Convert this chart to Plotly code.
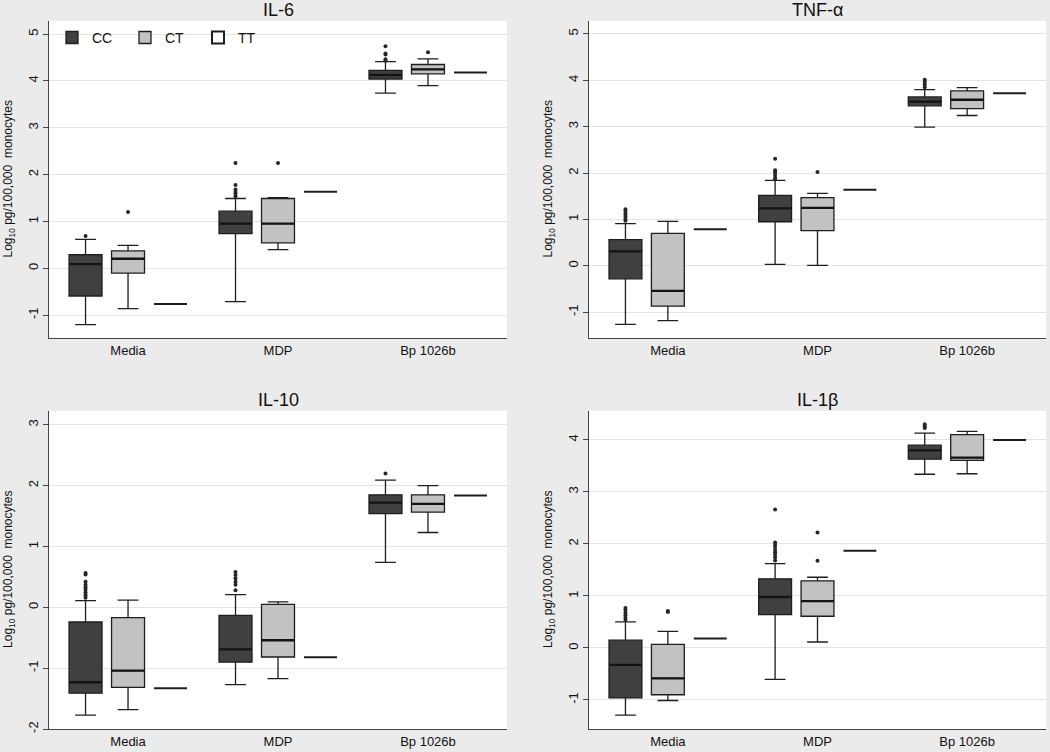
import plotly.graph_objects as go

GROUPS = ["Media", "MDP", "Bp 1026b"]
GENOTYPES = ["CC", "CT", "TT"]
PANEL_TITLES = ["IL-6", "TNF-α", "IL-10", "IL-1β"]

# Each row: [lower whisker, Q1, median, Q3, upper whisker] for Media, MDP, Bp 1026b
IL6_CC = [[-1.20, -0.59, 0.09, 0.29, 0.62], [-0.71, 0.74, 0.955, 1.22, 1.49], [3.74, 4.04, 4.126, 4.225, 4.41]]
IL6_CT = [[-0.86, -0.10, 0.205, 0.375, 0.49], [0.40, 0.545, 0.955, 1.49, 1.51], [3.90, 4.15, 4.245, 4.35, 4.47]]
IL6_TT = [-0.76, 1.635, 4.18]
IL6_CC_OUT = [[0.69], [2.25, 1.78, 1.68, 1.63, 1.59, 1.54], [4.74, 4.585, 4.565, 4.46, 4.43]]
IL6_CT_OUT = [[1.20], [2.25], [4.61]]

TNF_CC = [[-1.26, -0.28, 0.31, 0.565, 0.91], [0.03, 0.95, 1.24, 1.52, 1.84], [2.99, 3.45, 3.54, 3.64, 3.80]]
TNF_CT = [[-1.18, -0.87, -0.54, 0.70, 0.96], [0.01, 0.76, 1.25, 1.47, 1.56], [3.24, 3.39, 3.58, 3.77, 3.84]]
TNF_TT = [0.79, 1.64, 3.72]
TNF_CC_OUT = [[1.22, 1.17, 1.11, 1.06, 1.01, 0.97], [2.31, 2.06, 2.01, 1.96, 1.90, 1.86], [4.01, 3.96, 3.91, 3.85]]
TNF_CT_OUT = [[], [2.02], []]

IL10_CC = [[-1.77, -1.41, -1.23, -0.24, 0.11], [-1.27, -0.90, -0.69, -0.13, 0.21], [0.74, 1.54, 1.72, 1.85, 2.09]]
IL10_CT = [[-1.68, -1.315, -1.04, -0.17, 0.12], [-1.17, -0.815, -0.54, 0.05, 0.09], [1.23, 1.565, 1.70, 1.85, 2.00]]
IL10_TT = [-1.33, -0.82, 1.84]
IL10_CC_OUT = [[0.565, 0.54, 0.42, 0.37, 0.33, 0.29, 0.245, 0.20, 0.16], [0.58, 0.53, 0.48, 0.42, 0.37, 0.28], [2.20]]
IL10_CT_OUT = [[], [], []]

IL1B_CC = [[-1.29, -0.96, -0.325, 0.15, 0.50], [-0.605, 0.64, 0.98, 1.33, 1.62], [3.34, 3.63, 3.80, 3.90, 4.13]]
IL1B_CT = [[-1.01, -0.90, -0.585, 0.07, 0.32], [0.115, 0.61, 0.90, 1.29, 1.36], [3.35, 3.605, 3.66, 4.10, 4.165]]
IL1B_TT = [0.18, 1.87, 4.00]
IL1B_CC_OUT = [[0.77, 0.73, 0.675, 0.63, 0.58, 0.54], [2.66, 2.03, 1.98, 1.94, 1.885, 1.84, 1.79, 1.745, 1.68], [4.30, 4.26, 4.23]]
IL1B_CT_OUT = [[0.71, 0.69], [2.22, 1.675], []]

Y_TICKS = [[-1, 0, 1, 2, 3, 4, 5], [-1, 0, 1, 2, 3, 4, 5], [-2, -1, 0, 1, 2, 3], [-1, 0, 1, 2, 3, 4]]

# ---------------- layout constants ----------------
W, H = 1050, 752
Y_RANGES = [[-1.49, 5.28], [-1.56, 5.28], [-2.0, 3.23], [-1.56, 4.56]]
X_DOM = [[49 / W, 507 / W], [589 / W, 1046 / W]]
Y_DOM = [[1 - 340 / H, 1 - 21 / H], [1 - 733 / H, 1 - 413 / H]]
FILLS = {"CC": "#404040", "CT": "#c2c2c2", "TT": "#ffffff"}
FONT = "Liberation Sans, Arial, sans-serif"

panels = [
    (IL6_CC, IL6_CT, IL6_TT, IL6_CC_OUT, IL6_CT_OUT),
    (TNF_CC, TNF_CT, TNF_TT, TNF_CC_OUT, TNF_CT_OUT),
    (IL10_CC, IL10_CT, IL10_TT, IL10_CC_OUT, IL10_CT_OUT),
    (IL1B_CC, IL1B_CT, IL1B_TT, IL1B_CC_OUT, IL1B_CT_OUT),
]

fig = go.Figure()

for p, (cc, ct, tt, cc_out, ct_out) in enumerate(panels):
    xa = "x" if p == 0 else f"x{p + 1}"
    ya = "y" if p == 0 else f"y{p + 1}"
    stats = {
        "CC": (cc, cc_out),
        "CT": (ct, ct_out),
        "TT": ([[v, v, v, v, v] for v in tt], [[] for _ in tt]),
    }
    for g in GENOTYPES:
        s, outs = stats[g]
        # sample points: the median (inside the box, never drawn) plus the outliers
        samples = [[row[2]] + list(o) for row, o in zip(s, outs)]
        fig.add_trace(go.Box(
            name=g,
            legendgroup=g,
            showlegend=(p == 0),
            x=GROUPS,
            y=samples,
            lowerfence=[r[0] for r in s],
            q1=[r[1] for r in s],
            median=[r[2] for r in s],
            q3=[r[3] for r in s],
            upperfence=[r[4] for r in s],
            orientation="v",
            boxpoints="outliers",
            jitter=0,
            pointpos=0,
            whiskerwidth=0.63,
            fillcolor=FILLS[g],
            line=dict(color="#1e1e1e", width=2 if g == "TT" else 1.3),
            marker=dict(color="#262626", size=4, outliercolor="#262626"),
            offsetgroup=g,
            xaxis=xa,
            yaxis=ya,
            hoverinfo="skip",
        ))
        if g != "TT":
            # thicker median bar drawn over the box, in the same slot
            med = [r[2] for r in s]
            fig.add_trace(go.Box(
                name=g,
                legendgroup=g,
                showlegend=False,
                x=GROUPS,
                lowerfence=med, q1=med, median=med, q3=med, upperfence=med,
                orientation="v",
                boxpoints=False,
                fillcolor="rgba(0,0,0,0)",
                line=dict(color="#141414", width=2.3),
                offsetgroup=g,
                xaxis=xa,
                yaxis=ya,
                hoverinfo="skip",
            ))

layout = dict(
    width=W,
    height=H,
    margin=dict(l=0, r=0, t=0, b=0),
    paper_bgcolor="#ebebeb",
    plot_bgcolor="#ffffff",
    font=dict(family=FONT, color="#111111", size=13),
    boxmode="group",
    boxgap=0.15,
    boxgroupgap=0.224,
    showlegend=True,
    legend=dict(
        orientation="h",
        x=52 / W,
        y=1 - 22 / H,
        xanchor="left",
        yanchor="top",
        bgcolor="rgba(0,0,0,0)",
        font=dict(size=14, family=FONT),
        entrywidth=28,
        traceorder="normal",
    ),
    annotations=[],
)

for p in range(4):
    r, c = divmod(p, 2)
    xk = "xaxis" if p == 0 else f"xaxis{p + 1}"
    yk = "yaxis" if p == 0 else f"yaxis{p + 1}"
    xa = "x" if p == 0 else f"x{p + 1}"
    ya = "y" if p == 0 else f"y{p + 1}"
    layout[xk] = dict(
        domain=X_DOM[c],
        anchor=ya,
        type="category",
        range=[-0.527, 2.527],
        showgrid=False,
        showline=True,
        linecolor="#444444",
        linewidth=1.2,
        ticks="",
        tickfont=dict(size=13),
        zeroline=False,
        fixedrange=True,
    )
    layout[yk] = dict(
        domain=Y_DOM[r],
        anchor=xa,
        range=Y_RANGES[p],
        tickmode="array",
        tickvals=Y_TICKS[p],
        ticktext=[str(t) for t in Y_TICKS[p]],
        tickangle=-90,
        ticks="outside",
        ticklen=5,
        tickcolor="#444444",
        showgrid=True,
        gridcolor="#e3e3e3",
        gridwidth=1,
        showline=True,
        linecolor="#444444",
        linewidth=1.2,
        zeroline=False,
        tickfont=dict(size=13),
        fixedrange=True,
    )
    xd = X_DOM[c]
    yd = Y_DOM[r]
    layout["annotations"].append(dict(
        text=PANEL_TITLES[p],
        xref="paper", yref="paper",
        x=(xd[0] + xd[1]) / 2,
        y=yd[1] + 11 / H,
        xanchor="center", yanchor="middle",
        showarrow=False,
        font=dict(size=18, family=FONT),
    ))
    layout["annotations"].append(dict(
        text="Log<sub>10</sub> pg/100,000  monocytes",
        xref="paper", yref="paper",
        x=xd[0] - 40 / W,
        y=(yd[0] + yd[1]) / 2,
        xanchor="center", yanchor="middle",
        textangle=-90,
        showarrow=False,
        font=dict(size=12, family=FONT),
    ))

fig.update_layout(**layout)
fig.write_html(
    "out.html",
    config={"displayModeBar": False},
    post_script="document.body.style.margin='0';document.body.style.overflow='hidden';",
)
